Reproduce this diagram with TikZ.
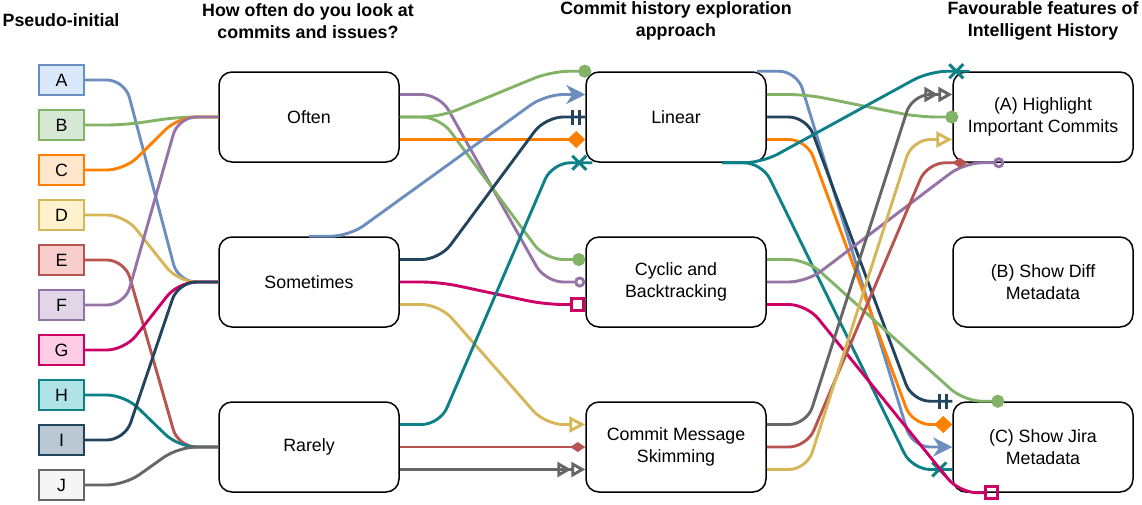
\documentclass[tikz,border=0pt]{standalone}
\usepackage{fontspec}
\setmainfont{Liberation Sans}
\usetikzlibrary{arrows.meta,calc,decorations.markings}

\definecolor{fillA}{HTML}{DAE8FC}\definecolor{lineA}{HTML}{6C8EBF}
\definecolor{fillB}{HTML}{D5E8D4}\definecolor{lineB}{HTML}{82B366}
\definecolor{fillC}{HTML}{FFE6CC}\definecolor{lineC}{HTML}{FF8000}
\definecolor{fillD}{HTML}{FFF2CC}\definecolor{lineD}{HTML}{D6B656}
\definecolor{fillE}{HTML}{F8CECC}\definecolor{lineE}{HTML}{B85450}
\definecolor{fillF}{HTML}{E1D5E7}\definecolor{lineF}{HTML}{9673A6}
\definecolor{fillG}{HTML}{FFCCE6}\definecolor{lineG}{HTML}{CC0066}
\definecolor{fillH}{HTML}{B0E3E6}\definecolor{lineH}{HTML}{0E8088}
\definecolor{fillI}{HTML}{BAC8D3}\definecolor{lineI}{HTML}{23445D}
\definecolor{fillJ}{HTML}{F5F5F5}\definecolor{lineJ}{HTML}{666666}

% connector: out horizontally, across, in horizontally
\newcommand{\flow}[3][]{\draw[flow,#1] (#2) -- ($(#2)+(40,0)$) -- ($(#3)+(-40,0)$) -- (#3);}

\begin{document}
\begin{tikzpicture}[x=1pt,y=-1pt,
	every node/.style={font=\fontsize{17.8}{21.5}\selectfont},
	heading/.style={font=\bfseries\fontsize{17.8}{22}\selectfont,align=center},
	letter/.style={minimum width=45pt,minimum height=30pt,line width=1.6pt,inner sep=0pt},
	stage/.style={draw,fill=white,rounded corners=13pt,minimum width=180pt,minimum height=90pt,align=center,line width=1.5pt},
	flow/.style={line width=2.9pt,rounded corners=18pt},
	dot/.style={-{Circle[length=13pt]}},
	ring/.style={-{Circle[open,length=11pt]}},
	box/.style={-{Square[open,length=15pt,width=15pt]}},
	rhomb/.style={-{Diamond[length=18pt,width=17pt]}},
	thinrhomb/.style={-{Diamond[length=15pt,width=10pt]}},
	pointer/.style={-{Stealth[length=19pt,width=19pt,inset=6pt]}},
	hollow/.style={-{Triangle[open,length=16pt,width=16pt]}},
	twohollow/.style={-{Triangle[open,length=14pt,width=15pt,sep=0pt]Triangle[open,length=14pt,width=15pt]}},
	twobars/.style={postaction={decorate,decoration={markings,
		mark=at position -13pt with {\draw[-] (0pt,-7.5pt) -- (0pt,7.5pt);},
		mark=at position -6pt with {\draw[-] (0pt,-7.5pt) -- (0pt,7.5pt);}}}},
	crossend/.style={postaction={decorate,decoration={markings,
		mark=at position -13pt with {\draw[-] (-7pt,-7pt) -- (7pt,7pt) (-7pt,7pt) -- (7pt,-7pt);}}}}]
	\useasboundingbox (0,0) rectangle (1142,504);

	% column headings
	\node[heading] (h-pseudo) at (61,20) {Pseudo-initial};
	\node[heading] (h-freq) at (308,21) {How often do you look at\\commits and issues?};
	\node[heading] (h-approach) at (676,21) {Commit history exploration\\approach};
	\node[heading] (h-feature) at (1043,21) {Favourable features of\\Intelligent History};

	% participants
	\foreach \l [count=\i] in {A,B,C,D,E,F,G,H,I,J}
		\node[letter,fill=fill\l,draw=line\l] (\l) at (61.5,35+45*\i) {\l};

	% frequency
	\node[stage] (often) at (309,117) {Often};
	\node[stage] (sometimes) at (309,282) {Sometimes};
	\node[stage] (rarely) at (309,447) {Rarely};
	% approach
	\node[stage] (linear) at (676,117) {Linear};
	\node[stage] (cyclic) at (676,282) {Cyclic and\\Backtracking};
	\node[stage] (skim) at (676,447) {Commit Message\\Skimming};
	% features
	\node[stage] (highlight) at (1043,117) {(A) Highlight\\Important Commits};
	\node[stage] (diff) at (1043,282) {(B) Show Diff\\Metadata};
	\node[stage] (jira) at (1043,447) {(C) Show Jira\\Metadata};

	% participants -> frequency
	\flow[lineA]{A.east}{sometimes.west}
	\flow[lineB]{B.east}{often.west}
	\flow[lineC]{C.east}{often.west}
	\flow[lineD]{D.east}{sometimes.west}
	\flow[lineE]{E.east}{rarely.west}
	\flow[lineF]{F.east}{often.west}
	\flow[lineG]{G.east}{sometimes.west}
	\flow[lineH]{H.east}{rarely.west}
	\flow[lineI]{I.east}{sometimes.west}
	\flow[lineJ]{J.east}{rarely.west}

	% frequency -> approach
	\flow[lineF,ring]{[yshift=22.5pt]often.east}{cyclic.west}
	\flow[lineB,dot]{often.east}{[xshift=6pt]linear.north west}
	\flow[lineB,dot]{often.east}{[yshift=22.5pt]cyclic.west}
	\flow[lineC,rhomb]{[yshift=-22.5pt]often.east}{[yshift=-22.5pt]linear.west}
	\flow[lineA,pointer]{sometimes.north}{[yshift=22.5pt]linear.west}
	\flow[lineI,twobars]{[yshift=22.5pt]sometimes.east}{linear.west}
	\flow[lineG,box]{sometimes.east}{[yshift=-22.5pt]cyclic.west}
	\flow[lineD,hollow]{[yshift=-22.5pt]sometimes.east}{[yshift=22.5pt]skim.west}
	\flow[lineH,crossend]{[yshift=22.5pt]rarely.east}{[xshift=7pt]linear.south west}
	\flow[lineE,thinrhomb]{rarely.east}{skim.west}
	\flow[lineJ,twohollow]{[yshift=-22.5pt]rarely.east}{[yshift=-22.5pt]skim.west}

	% approach -> features
	\flow[lineA,pointer]{[xshift=81pt]linear.north}{jira.west}
	\flow[lineB,dot]{[yshift=22.5pt]linear.east}{[xshift=6pt]highlight.west}
	\flow[lineI,twobars]{linear.east}{jira.north west}
	\flow[lineC,rhomb]{[yshift=-22.5pt]linear.east}{[yshift=22.5pt]jira.west}
	\flow[lineH,crossend]{[xshift=46pt]linear.south}{[xshift=17pt]highlight.north west}
	\flow[lineH,crossend]{[xshift=46pt]linear.south}{[yshift=-22.5pt]jira.west}
	\flow[lineB,dot]{[yshift=22.5pt]cyclic.east}{[xshift=52pt]jira.north west}
	\flow[lineF,ring]{cyclic.east}{[xshift=52pt]highlight.south west}
	\flow[lineG,box]{[yshift=-22.5pt]cyclic.east}{[xshift=47pt]jira.south west}
	\flow[lineJ,twohollow]{[yshift=22.5pt]skim.east}{[yshift=22.5pt]highlight.west}
	\flow[lineE,thinrhomb]{skim.east}{[xshift=15pt]highlight.south west}
	\flow[lineD,hollow]{[yshift=-22.5pt]skim.east}{[yshift=-22.5pt]highlight.west}
\end{tikzpicture}
\end{document}
